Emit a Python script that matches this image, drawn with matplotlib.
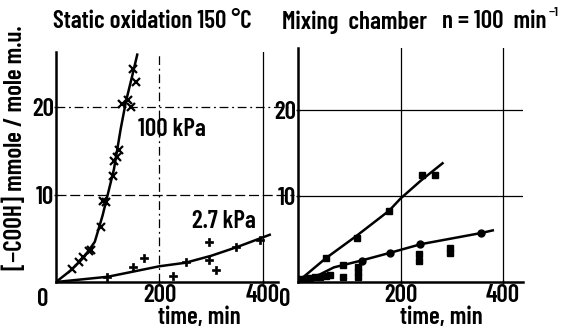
import matplotlib
matplotlib.use("Agg")
import matplotlib.pyplot as plt

plt.rcParams['font.family'] = ['Barlow Condensed', 'DejaVu Sans']
plt.rcParams['font.weight'] = 'semibold'

# ---------------- data ----------------
# Left panel: static oxidation 150 °C
t_100kpa = [30, 45, 53, 64, 68, 86, 91, 97, 110, 113, 117, 121, 127, 139, 145, 149, 155]
y_100kpa = [1.5, 2.3, 2.9, 3.5, 3.7, 6.3, 9.3, 9.2, 12.1, 13.8, 14.3, 15.1, 20.4, 20.8, 20.0, 24.4, 22.9]
curve_100kpa_t = [0, 30, 55, 75, 90, 100, 112, 125, 135, 147, 157]
curve_100kpa_y = [0, 1.4, 2.9, 4.6, 7.6, 10.0, 12.9, 17.5, 20.6, 23.5, 26.0]

t_27kpa = [98, 149, 170, 227, 251, 296, 296, 310, 348, 394]
y_27kpa = [0.6, 1.75, 2.8, 0.7, 2.25, 4.6, 2.5, 1.4, 4.0, 4.8]
curve_27kpa_t = [0, 100, 200, 250, 300, 350, 413]
curve_27kpa_y = [0, 0.6, 1.8, 2.2, 3.0, 4.0, 5.4]

# Right panel: mixing chamber n = 100 min^-1
t_sq = [54, 115, 178, 241, 267]
y_sq = [2.75, 5.15, 8.3, 12.4, 12.4]
line_sq_t = [7, 54, 115, 178, 200, 240, 282]
line_sq_y = [0.4, 2.75, 5.4, 8.3, 9.7, 11.8, 13.8]

t_ci = [124, 180, 238, 358]
y_ci = [2.4, 3.4, 4.4, 5.7]
line_ci_t = [10, 40, 70, 124, 180, 240, 358, 380]
line_ci_y = [0.2, 0.8, 1.7, 2.5, 3.4, 4.4, 5.7, 6.0]

t_other = [4, 14, 23, 33, 43, 55, 62, 88, 88, 117, 117, 117, 237, 237, 297, 297]
y_other = [0.4, 0.3, 0.5, 0.6, 0.6, 0.7, 0.8, 2.0, 0.6, 1.8, 1.2, 0.6, 3.3, 2.4, 3.9, 3.4]

xticks = [200, 400]
yticks = [10, 20]

# ---------------- figure ----------------
W, H = 584, 328
fig = plt.figure(figsize=(W / 100, H / 100), dpi=100)

def px_axes(x0, y_bottom, x1, y_top):
    return fig.add_axes([x0 / W, 1 - y_bottom / H, (x1 - x0) / W, (y_bottom - y_top) / H])

axL = px_axes(56, 282, 278, 52)
axR = px_axes(298, 282, 523, 48)
axL.set_xlim(0, 429)
axL.set_ylim(0, 26.3)
axR.set_xlim(0, 439)
axR.set_ylim(0, 27.2)

fs = 18
for ax in (axL, axR):
    for s in ('top', 'right'):
        ax.spines[s].set_visible(False)
    for s in ('left', 'bottom'):
        ax.spines[s].set_linewidth(1.8)
    ax.set_xticks(xticks)
    ax.set_yticks(yticks)
    ax.tick_params(axis='both', length=3, width=1.0, direction='inout', labelsize=fs)
    ax.tick_params(axis='x', pad=0)
    ax.tick_params(axis='y', pad=0)
    ax.text(-0.035, -0.025, '0', transform=ax.transAxes, fontsize=fs,
            ha='right', va='top', clip_on=False)

# x labels
fig.text(199 / W, 1 - 318 / H, 'time, min', fontsize=fs, ha='center', va='center')
fig.text(441 / W, 1 - 318 / H, 'time, min', fontsize=fs, ha='center', va='center')

# grid lines, left panel (mixed dash styles)
gk = dict(color='black', lw=0.9, zorder=1)
axL.axvline(200, ls=(0, (7, 3, 1.5, 3)), **gk)
axL.axvline(400, ls='-', **gk)
axL.plot([0, 1.07], [10 / 26.3] * 2, transform=axL.transAxes, ls=(0, (8, 3)), clip_on=False, **gk)
axL.plot([0, 1.07], [20 / 26.3] * 2, transform=axL.transAxes, ls=(0, (7, 3, 1.5, 3)), clip_on=False, **gk)
# grid lines, right panel (solid)
for v in xticks:
    axR.axvline(v, ls='-', **gk)
for h in yticks:
    axR.axhline(h, ls='-', **gk)

# left panel data
axL.plot(curve_100kpa_t, curve_100kpa_y, color='black', lw=1.8, zorder=3)
axL.plot(t_100kpa, y_100kpa, 'x', color='black', ms=5.5, mew=1.6, zorder=4)
axL.plot(curve_27kpa_t, curve_27kpa_y, color='black', lw=1.8, zorder=3)
axL.plot(t_27kpa, y_27kpa, 'P', color='black', ms=5.5, mew=0.5, zorder=4)
axL.text(158, 17.4, '100 kPa', fontsize=fs, ha='left', va='center')
axL.text(263, 6.9, '2.7 kPa', fontsize=fs, ha='left', va='center')

# right panel data
axR.plot(line_sq_t, line_sq_y, color='black', lw=1.8, zorder=3)
axR.plot(t_sq, y_sq, 's', color='black', ms=4.5, zorder=4)
axR.plot(line_ci_t, line_ci_y, color='black', lw=1.8, zorder=3)
axR.plot(t_ci, y_ci, 'o', color='black', ms=5, zorder=4)
axR.plot(t_other, y_other, 's', color='black', ms=4, zorder=4)

# titles
fig.text(53 / W, 1 - 22 / H, 'Static oxidation 150 °C', fontsize=fs, ha='left', va='center')
fig.text(282 / W, 1 - 22 / H, 'Mixing  chamber', fontsize=fs, ha='left', va='center')
tn = fig.text(442 / W, 1 - 22 / H, 'n = 100  min', fontsize=fs, ha='left', va='center')
fig.canvas.draw()
bb = tn.get_window_extent(renderer=fig.canvas.get_renderer())
fig.text((bb.x1 + 2) / W, 1 - 13 / H, '−1', fontsize=10, ha='left', va='center')

# y label
fig.text(15 / W, 1 - 148 / H, '[−COOH] mmole / mole m.u.', fontsize=fs, rotation=90,
         ha='center', va='center')

fig.savefig('out.png', dpi=100)
